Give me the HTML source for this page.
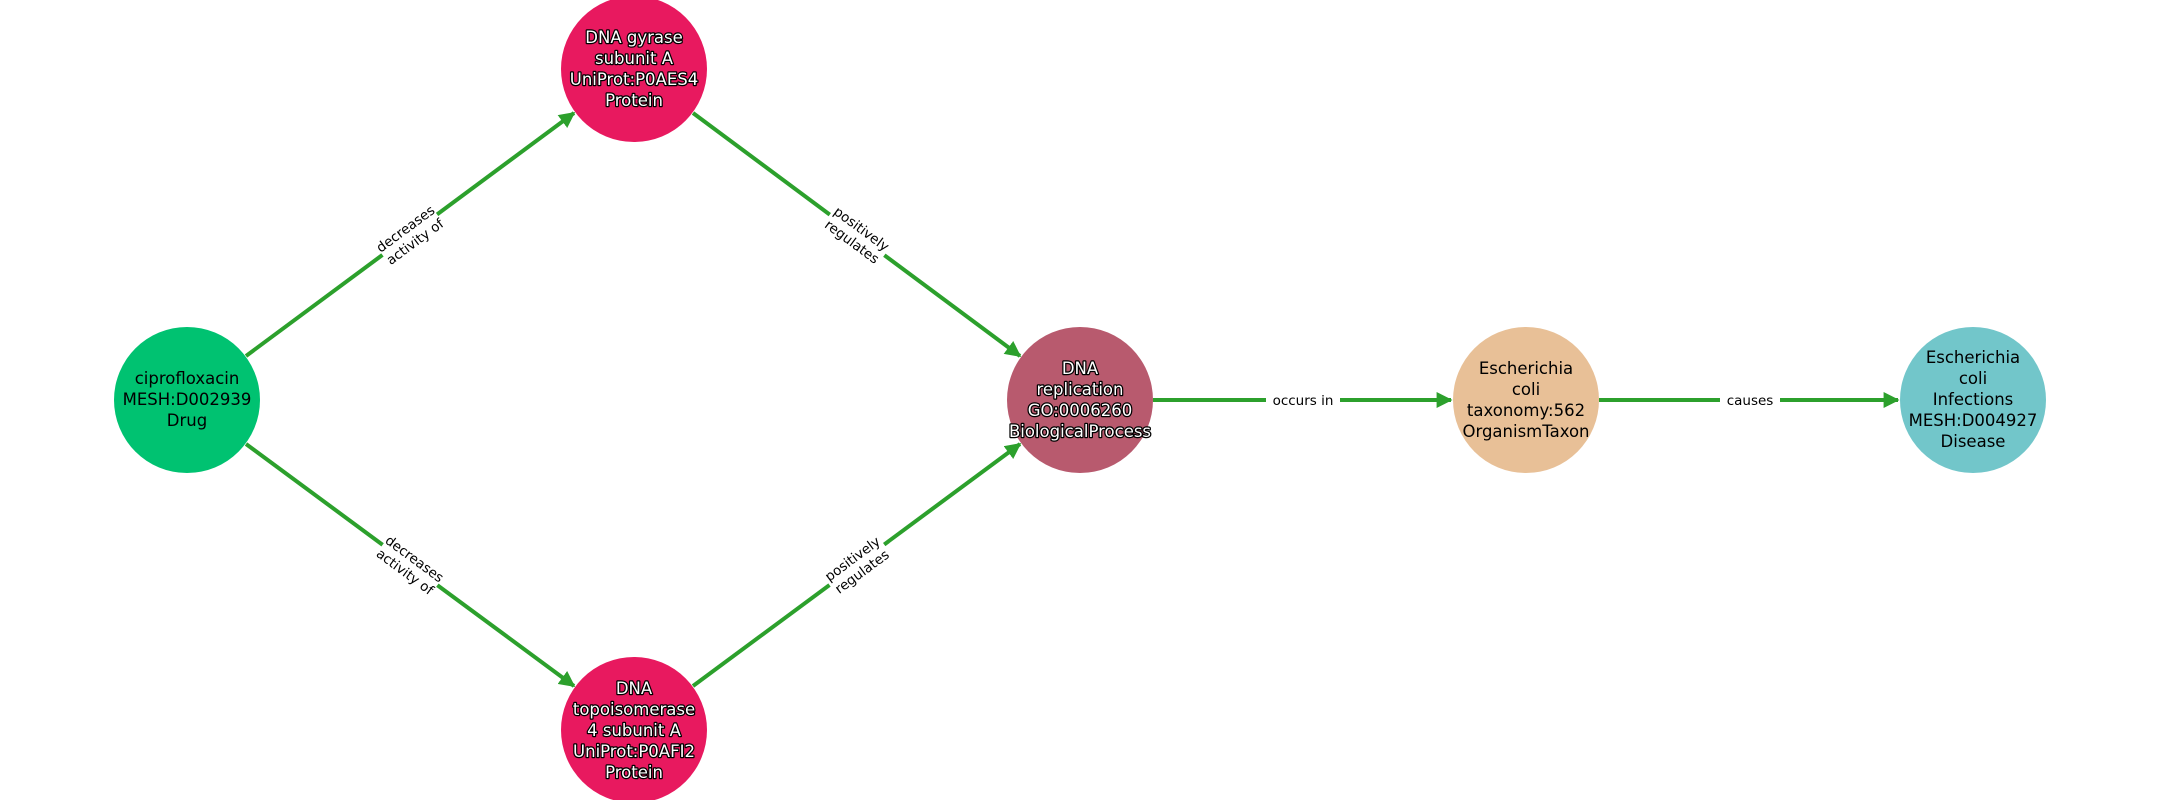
<!DOCTYPE html>
<html><head><style>html,body{margin:0;padding:0;background:#fff}svg{display:block}</style></head>
<body>
<svg width="2160" height="800" viewBox="0 0 2160 800" xmlns="http://www.w3.org/2000/svg" font-family="DejaVu Sans, Liberation Sans, sans-serif">
<defs>
<marker id="a" viewBox="0 0 10 10" refX="9" refY="5" markerWidth="4" markerHeight="4" orient="auto" markerUnits="strokeWidth">
<path d="M0,0 L10,5 L0,10 z" fill="#2ca02c"/></marker>
</defs>
<g stroke="#2ca02c" stroke-width="4" fill="none" marker-end="url(#a)">
<line x1="246" y1="356" x2="574" y2="113"/>
<line x1="246" y1="444" x2="574" y2="686"/>
<line x1="693" y1="113" x2="1020" y2="356"/>
<line x1="693" y1="686" x2="1020" y2="444"/>
<line x1="1153" y1="400" x2="1451" y2="400"/>
<line x1="1599" y1="400" x2="1898" y2="400"/>
</g>
<g font-size="13.5" text-anchor="middle" fill="#000">
<g transform="translate(410,235) rotate(-36.5)"><rect x="-34" y="-19" width="68" height="36" fill="#fff"/><text y="-3">decreases</text><text y="13">activity of</text></g>
<g transform="translate(410,565) rotate(36.5)"><rect x="-34" y="-19" width="68" height="36" fill="#fff"/><text y="-3">decreases</text><text y="13">activity of</text></g>
<g transform="translate(857,235) rotate(36.5)"><rect x="-34" y="-19" width="68" height="36" fill="#fff"/><text y="-3">positively</text><text y="13">regulates</text></g>
<g transform="translate(857,565) rotate(-36.5)"><rect x="-34" y="-19" width="68" height="36" fill="#fff"/><text y="-3">positively</text><text y="13">regulates</text></g>
<rect x="1266" y="390" width="74" height="20" fill="#fff"/><text x="1303" y="405">occurs in</text>
<rect x="1720" y="390" width="60" height="20" fill="#fff"/><text x="1750" y="405">causes</text>
</g>
<circle cx="187" cy="400" r="73" fill="#00c271"/>
<circle cx="634" cy="69" r="73" fill="#e8195f"/>
<circle cx="634" cy="730" r="73" fill="#e8195f"/>
<circle cx="1080" cy="400" r="73" fill="#b85a6e"/>
<circle cx="1526" cy="400" r="73" fill="#e8c097"/>
<circle cx="1973" cy="400" r="73" fill="#72c6ca"/>
<g font-size="16.5" text-anchor="middle" fill="#000">
<text x="187" y="384">ciprofloxacin</text><text x="187" y="405">MESH:D002939</text><text x="187" y="426">Drug</text>
<text x="1526" y="374">Escherichia</text><text x="1526" y="395">coli</text><text x="1526" y="416">taxonomy:562</text><text x="1526" y="437">OrganismTaxon</text>
<text x="1973" y="363">Escherichia</text><text x="1973" y="384">coli</text><text x="1973" y="405">Infections</text><text x="1973" y="426">MESH:D004927</text><text x="1973" y="447">Disease</text>
</g>
<g font-size="16.5" text-anchor="middle" fill="#fff" stroke="#000" stroke-width="2.5" paint-order="stroke" stroke-linejoin="round">
<text x="634" y="43">DNA gyrase</text><text x="634" y="64">subunit A</text><text x="634" y="85">UniProt:P0AES4</text><text x="634" y="106">Protein</text>
<text x="634" y="694">DNA</text><text x="634" y="715">topoisomerase</text><text x="634" y="736">4 subunit A</text><text x="634" y="757">UniProt:P0AFI2</text><text x="634" y="778">Protein</text>
<text x="1080" y="374">DNA</text><text x="1080" y="395">replication</text><text x="1080" y="416">GO:0006260</text><text x="1080" y="437">BiologicalProcess</text>
</g>
</svg>
</body></html>
